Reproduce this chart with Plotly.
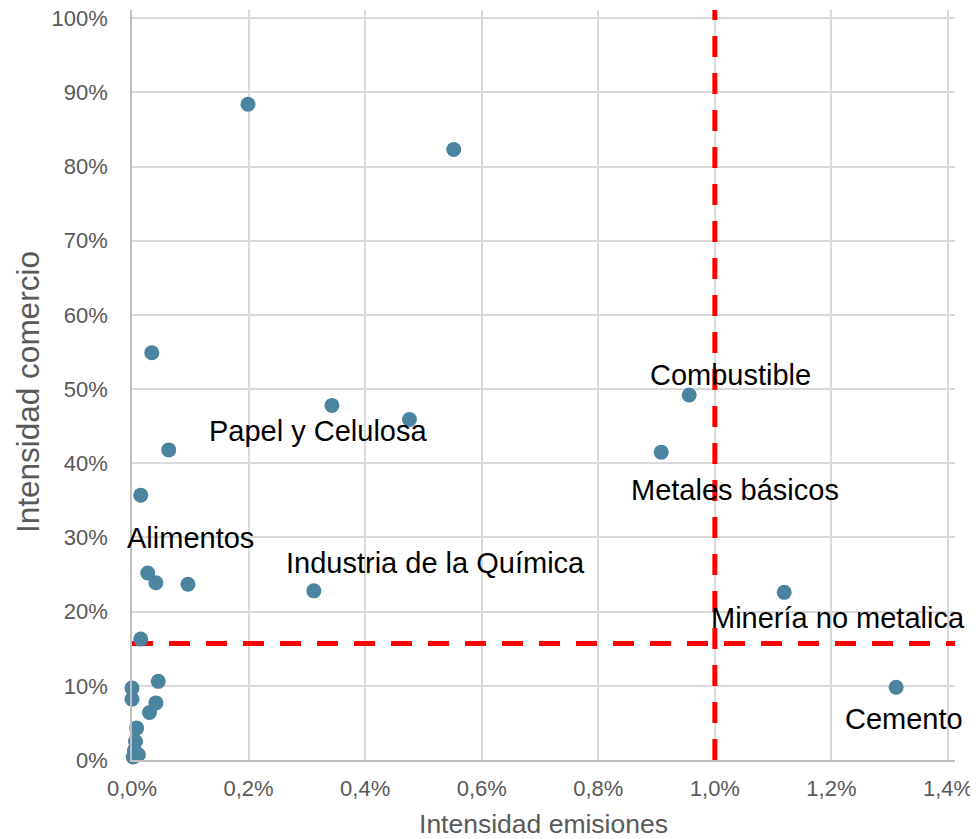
import plotly.graph_objects as go

# Emission intensity (fraction) and trade intensity (fraction)
emisiones = [0.00199, 0.00552, 0.00034, 0.00343, 0.00476, 0.00063, 0.00015,
             0.00956, 0.00908, 0.00027, 0.00041, 0.00096, 0.00312, 0.01119,
             0.01311, 0.00015, 0.00045, 0.00000, 0.00000, 0.00041, 0.00030,
             0.00008, 0.00006, 0.00004, 0.00011, 0.00002]
comercio = [0.884, 0.823, 0.549, 0.478, 0.459, 0.418, 0.357,
            0.492, 0.415, 0.252, 0.239, 0.237, 0.228, 0.226,
            0.098, 0.163, 0.106, 0.097, 0.082, 0.077, 0.064,
            0.043, 0.025, 0.013, 0.007, 0.004]

labels = ["Combustible", "Papel y Celulosa", "Metales básicos", "Alimentos",
          "Industria de la Química", "Minería no metalica", "Cemento"]
label_x = [0.01026, 0.00319, 0.01034, 0.00101, 0.00520, 0.01211, 0.01324]
label_y = [0.519, 0.444, 0.364, 0.299, 0.265, 0.191, 0.055]

umbral_x = 0.010
umbral_y = 0.157
x_max = 0.01412
y_max = 1.011

FONT = "Arial, Liberation Sans, sans-serif"
GREY = "#595959"

fig = go.Figure()

fig.add_trace(go.Scatter(
    x=[0, x_max], y=[umbral_y, umbral_y], mode="lines",
    line=dict(color="#ff0000", width=5, dash="21px,16px"),
    hoverinfo="skip", showlegend=False))
fig.add_trace(go.Scatter(
    x=[umbral_x, umbral_x], y=[0, y_max], mode="lines",
    line=dict(color="#ff0000", width=5, dash="21px,16px"),
    hoverinfo="skip", showlegend=False))

fig.add_trace(go.Scatter(
    x=emisiones, y=comercio, mode="markers",
    marker=dict(color="#4a84a1", size=15),
    cliponaxis=False, showlegend=False))

for t, lx, ly in zip(labels, label_x, label_y):
    fig.add_annotation(x=lx, y=ly, text=t, showarrow=False,
                       font=dict(family=FONT, size=29, color="#000000"),
                       xanchor="center", yanchor="middle")

# y-axis title as a rotated annotation
fig.add_annotation(xref="paper", yref="paper", x=0, y=0.5, xshift=-104, yshift=-7,
                   text="Intensidad comercio", textangle=-90, showarrow=False,
                   font=dict(family=FONT, size=31.5, color=GREY),
                   xanchor="center", yanchor="middle")

fig.update_layout(
    width=970, height=831,
    margin=dict(l=124, r=23, t=2, b=79, autoexpand=False),
    paper_bgcolor="white", plot_bgcolor="white",
    separators=",.",
    font=dict(family=FONT, color=GREY),
)
fig.update_xaxes(
    range=[0, x_max], tickvals=[0, 0.002, 0.004, 0.006, 0.008, 0.010, 0.012, 0.014],
    tickformat=".1%", showgrid=True, gridcolor="#d9d9d9", gridwidth=1.5,
    zeroline=False, showline=True, linecolor="#bfbfbf", linewidth=1.5,
    tickfont=dict(size=22, color=GREY), ticklabelstandoff=8,
    ticklabeloverflow="allow",
    title=dict(text="Intensidad emisiones", font=dict(size=26.5, color=GREY), standoff=22),
)
fig.update_yaxes(
    range=[0, y_max], tickvals=[i / 10 for i in range(11)],
    tickformat=".0%", showgrid=True, gridcolor="#d9d9d9", gridwidth=1.5,
    zeroline=False, showline=True, linecolor="#bfbfbf", linewidth=1.5,
    tickfont=dict(size=22, color=GREY), ticklabelstandoff=18,
    ticklabeloverflow="allow",
)

fig.write_html("out.html")
